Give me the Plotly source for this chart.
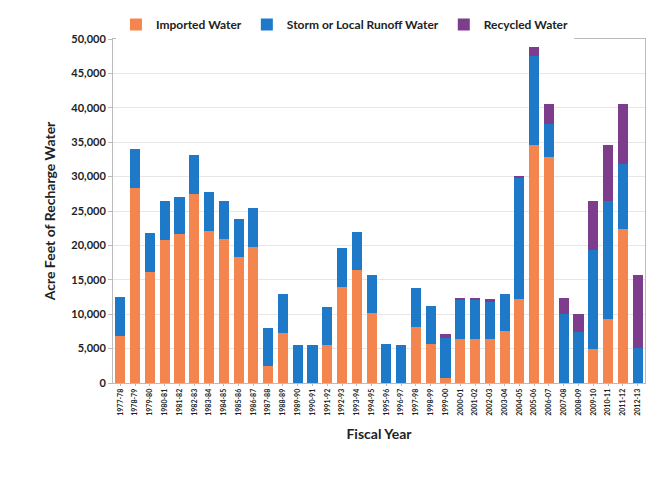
import plotly.graph_objects as go

years = ["1977-78", "1978-79", "1979-80", "1980-81", "1981-82", "1982-83",
         "1983-84", "1984-85", "1985-86", "1986-87", "1987-88", "1988-89",
         "1989-90", "1990-91", "1991-92", "1992-93", "1993-94", "1994-95",
         "1995-96", "1996-97", "1997-98", "1998-99", "1999-00", "2000-01",
         "2001-02", "2002-03", "2003-04", "2004-05", "2005-06", "2006-07",
         "2007-08", "2008-09", "2009-10", "2010-11", "2011-12", "2012-13"]

imported = [6800, 28300, 16200, 20800, 21600, 27500,
            22100, 20900, 18300, 19800, 2400, 7300,
            0, 0, 5500, 14000, 16400, 10200,
            0, 0, 8200, 5600, 700, 6400,
            6400, 6400, 7500, 12200, 34600, 32800,
            0, 0, 5000, 9300, 22400, 0]

storm = [5700, 5700, 5600, 5700, 5500, 5700,
         5700, 5600, 5600, 5600, 5600, 5600,
         5500, 5500, 5600, 5600, 5600, 5500,
         5600, 5500, 5600, 5600, 5800, 5600,
         5600, 5400, 5500, 17600, 12900, 4800,
         10000, 7400, 14300, 17200, 9400, 5100]

recycled = [0, 0, 0, 0, 0, 0,
            0, 0, 0, 0, 0, 0,
            0, 0, 0, 0, 0, 0,
            0, 0, 0, 0, 600, 400,
            400, 400, 0, 200, 1300, 3000,
            2400, 2700, 7200, 8100, 8800, 10600]

y_ticks = [0, 5000, 10000, 15000, 20000, 25000, 30000, 35000, 40000, 45000, 50000]

font_family = "Lato, 'Open Sans', sans-serif"

fig = go.Figure()
fig.add_trace(go.Bar(x=years, y=imported, name="Imported Water",
                     marker=dict(color="#F5854F", line=dict(width=0))))
fig.add_trace(go.Bar(x=years, y=storm, name="Storm or Local Runoff Water",
                     marker=dict(color="#1E79C8", line=dict(width=0))))
fig.add_trace(go.Bar(x=years, y=recycled, name="Recycled Water",
                     marker=dict(color="#7D3C8C", line=dict(width=0))))

fig.update_layout(
    barmode="stack",
    bargap=0.32,
    width=659, height=485,
    margin=dict(l=113, r=14, t=39, b=102, autoexpand=False),
    paper_bgcolor="white",
    plot_bgcolor="white",
    font=dict(family=font_family, color="#222222"),
    legend=dict(orientation="h", x=0.436, xanchor="center", y=1.0, yanchor="bottom",
                font=dict(size=12, family=font_family, color="#222222", weight="bold"),
                itemwidth=30, traceorder="normal", tracegroupgap=0),
    xaxis=dict(
        type="category",
        tickangle=-90,
        tickfont=dict(size=7, family=font_family, color="#222222", weight="bold"),
        title=dict(text="<b>Fiscal Year</b>", font=dict(size=14, family=font_family, color="#222222"),
                   standoff=14),
        showline=True, linecolor="#bbbbbb", linewidth=1, mirror=True,
        ticks="outside", ticklen=2, tickcolor="#bbbbbb",
    ),
    yaxis=dict(
        range=[0, 50000],
        tickvals=y_ticks,
        tickformat=",",
        tickfont=dict(size=11, family=font_family, color="#222222", weight="bold"),
        title=dict(text="<b>Acre Feet of Recharge Water</b>",
                   font=dict(size=14, family=font_family, color="#222222"),
                   standoff=12),
        showgrid=True, gridcolor="#e6e6e6", gridwidth=1,
        showline=True, linecolor="#bbbbbb", linewidth=1, mirror=True,
        ticks="outside", ticklen=4, tickcolor="#bbbbbb",
        zeroline=False,
    ),
)

fig.write_html("out.html")
